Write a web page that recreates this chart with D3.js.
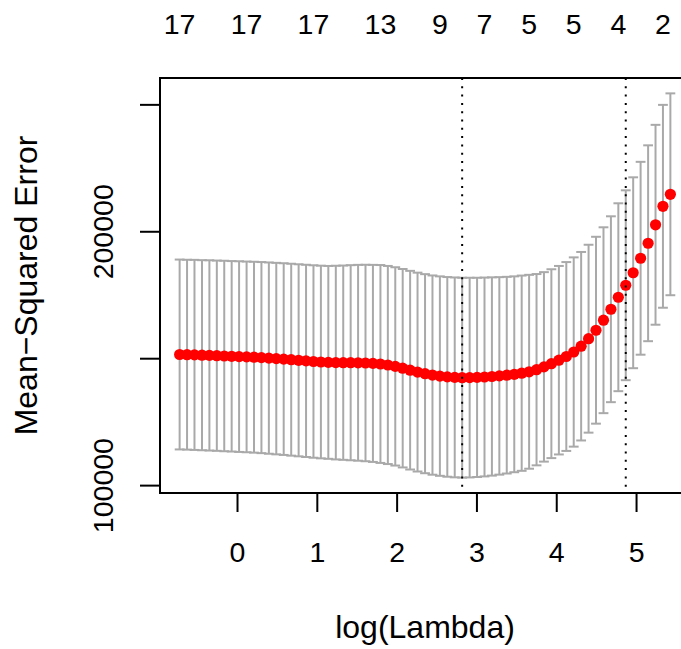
<!DOCTYPE html>
<html>
<head>
<meta charset="utf-8">
<script src="https://cdn.jsdelivr.net/npm/d3@7"></script>
<style>
body { margin: 0; background: #fff; }
svg text { font-family: "Liberation Sans", Arial, Helvetica, sans-serif; fill: #000; }
</style>
</head>
<body>
<svg id="chart"></svg>
<script>
// log(lambda) for each fit along the path
var logLambda = [-0.719, -0.626, -0.533, -0.439, -0.346, -0.253, -0.160, -0.067, 0.026, 0.120,
  0.213, 0.306, 0.399, 0.492, 0.585, 0.679, 0.772, 0.865, 0.958, 1.051,
  1.144, 1.238, 1.331, 1.424, 1.517, 1.610, 1.703, 1.797, 1.890, 1.983,
  2.076, 2.169, 2.262, 2.356, 2.449, 2.542, 2.635, 2.728, 2.821, 2.915,
  3.008, 3.101, 3.194, 3.287, 3.380, 3.474, 3.567, 3.660, 3.753, 3.846,
  3.939, 4.033, 4.126, 4.219, 4.312, 4.405, 4.498, 4.592, 4.685, 4.778,
  4.871, 4.964, 5.057, 5.151, 5.244, 5.337, 5.430];

// mean cross-validated error
var cvm = [151460, 151380, 151300, 151180, 151100, 150980, 150870, 150750, 150630, 150510,
  150390, 150240, 150040, 149840, 149650, 149410, 149170, 148940, 148700, 148500,
  148350, 148270, 148230, 148220, 148190, 148110, 147950, 147720, 147320, 146770,
  146060, 145280, 144530, 143900, 143350, 142950, 142640, 142440, 142320, 142360,
  142440, 142600, 142800, 143030, 143310, 143660, 144090, 144650, 145470, 146580,
  147840, 149210, 150670, 152440, 154720, 157680, 161020, 164960, 169290, 174020,
  178740, 183660, 189370, 195280, 202560, 209840, 214570];

// standard error of cvm
var cvsd = [37400, 37400, 37440, 37440, 37480, 37480, 37520, 37520, 37560, 37560,
  37600, 37640, 37680, 37720, 37760, 37800, 37830, 37870, 37910, 37950,
  37990, 38150, 38270, 38430, 38580, 38700, 38820, 38980, 39020, 39060,
  39090, 39130, 39170, 39210, 39250, 39290, 39330, 39370, 39370, 39330,
  39250, 39170, 39060, 38900, 38740, 38580, 38460, 38190, 37680, 37320,
  37200, 37130, 37200, 37280, 37130, 37010, 36810, 36610, 36610, 37010,
  37400, 37600, 37990, 38580, 39370, 39960, 39760];

// number of non-zero coefficients shown on the top axis
var nzeroAt = [-0.719, 0.120, 0.958, 1.797, 2.542, 3.101, 3.660, 4.219, 4.778, 5.337];
var nzeroLabels = ["17", "17", "17", "13", "9", "7", "5", "5", "4", "2"];

var lambdaMin = 2.821;
var lambda1se = 4.871;

var xTicks = [0, 1, 2, 3, 4, 5];
var yTicks = [100000, 150000, 200000, 250000];
var yTickLabels = ["100000", "", "200000", ""];

var W = 681, H = 649;
var box = {left: 160, right: 690, top: 78, bottom: 493};
var tickFont = 28.5, titleFont = 32;

var svg = d3.select("#chart").attr("width", W).attr("height", H);

var data = logLambda.map(function(d, i) {
  return {x: d, m: cvm[i], up: cvm[i] + cvsd[i], lo: cvm[i] - cvsd[i]};
});

// R style 4% extension of the ranges
var xr = d3.extent(logLambda), xpad = (xr[1] - xr[0]) * 0.04;
var yr = [d3.min(data, d => d.lo), d3.max(data, d => d.up)], ypad = (yr[1] - yr[0]) * 0.04;

var x = d3.scaleLinear().domain([xr[0] - xpad, xr[1] + xpad]).range([box.left, box.right]);
var y = d3.scaleLinear().domain([yr[0] - ypad, yr[1] + ypad]).range([box.bottom, box.top]);

var capW = (xr[1] - xr[0]) * 0.01;

// error bars
var bars = svg.append("g").attr("stroke", "#a9a9a9").attr("stroke-width", 2);
bars.selectAll("line.v").data(data).enter().append("line")
  .attr("x1", d => x(d.x)).attr("x2", d => x(d.x))
  .attr("y1", d => y(d.up)).attr("y2", d => y(d.lo));
bars.selectAll("line.u").data(data).enter().append("line")
  .attr("x1", d => x(d.x - capW)).attr("x2", d => x(d.x + capW))
  .attr("y1", d => y(d.up)).attr("y2", d => y(d.up));
bars.selectAll("line.l").data(data).enter().append("line")
  .attr("x1", d => x(d.x - capW)).attr("x2", d => x(d.x + capW))
  .attr("y1", d => y(d.lo)).attr("y2", d => y(d.lo));

// mean points
svg.append("g").selectAll("circle").data(data).enter().append("circle")
  .attr("cx", d => x(d.x)).attr("cy", d => y(d.m)).attr("r", 5.6)
  .attr("fill", "#ff0000");

// vertical dotted lines at lambda.min and lambda.1se
svg.append("g").selectAll("line").data([lambdaMin, lambda1se]).enter().append("line")
  .attr("x1", d => x(d)).attr("x2", d => x(d))
  .attr("y1", box.top).attr("y2", box.bottom)
  .attr("stroke", "#000").attr("stroke-width", 2).attr("stroke-dasharray", "2,6.3");

// plot box
svg.append("rect")
  .attr("x", box.left).attr("y", box.top)
  .attr("width", box.right - box.left).attr("height", box.bottom - box.top)
  .attr("fill", "none").attr("stroke", "#000").attr("stroke-width", 2);

// x axis
var gx = svg.append("g").attr("transform", "translate(0," + box.bottom + ")")
  .call(d3.axisBottom(x).tickValues(xTicks).tickSize(19).tickFormat(d3.format("d")));
gx.select(".domain").remove();
gx.selectAll("line").attr("stroke", "#000").attr("stroke-width", 2);
gx.selectAll("text").attr("font-size", tickFont).attr("font-family", null)
  .attr("y", 69).attr("dy", null);

// y axis
var gy = svg.append("g").attr("transform", "translate(" + box.left + ",0)")
  .call(d3.axisLeft(y).tickValues(yTicks).tickSize(20)
    .tickFormat(function(d, i) { return yTickLabels[i]; }));
gy.select(".domain").remove();
gy.selectAll("line").attr("stroke", "#000").attr("stroke-width", 2);
gy.selectAll("text").attr("font-size", tickFont).attr("font-family", null)
  .attr("x", 0).attr("y", 0).attr("dy", "0.35em")
  .attr("text-anchor", "middle")
  .attr("transform", "translate(-57,0) rotate(-90)");

// top axis: number of non-zero coefficients
svg.append("g").selectAll("text").data(nzeroLabels).enter().append("text")
  .attr("x", (d, i) => x(nzeroAt[i])).attr("y", 33.5)
  .attr("text-anchor", "middle").attr("font-size", tickFont)
  .text(d => d);

// axis titles
svg.append("text")
  .attr("x", (box.left + box.right) / 2).attr("y", 638)
  .attr("text-anchor", "middle").attr("font-size", titleFont)
  .text("log(Lambda)");
svg.append("text")
  .attr("transform", "translate(36.7," + (box.top + box.bottom) / 2 + ") rotate(-90)")
  .attr("text-anchor", "middle").attr("font-size", titleFont)
  .text("Mean\u2212Squared Error");
</script>
</body>
</html>
